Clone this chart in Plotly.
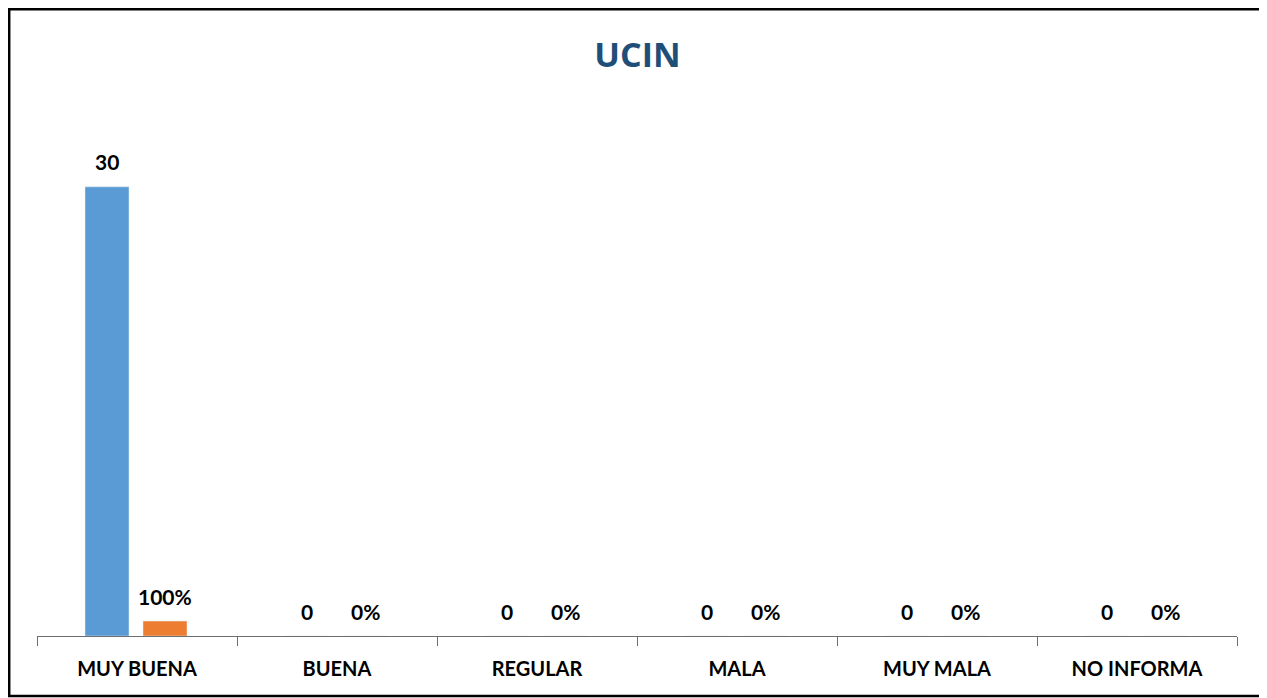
import plotly.graph_objects as go

categories = ["MUY BUENA", "BUENA", "REGULAR", "MALA", "MUY MALA", "NO INFORMA"]
counts = [30, 0, 0, 0, 0, 0]
percents = [1.0, 0, 0, 0, 0, 0]

BLUE = "#5B9BD5"
ORANGE = "#ED7D31"
FONT = "Lato"

fig = go.Figure()
fig.add_trace(go.Bar(x=categories, y=counts, marker_color=BLUE, width=0.22, offset=-0.26,
                     name="Cantidad", hoverinfo="x+y"))
fig.add_trace(go.Bar(x=categories, y=percents, marker_color=ORANGE, width=0.22, offset=0.03,
                     name="Porcentaje", hoverinfo="x+y"))

# data labels placed through the data axes
for c, v in zip(categories, counts):
    fig.add_annotation(x=c, y=v, xref="x", yref="y", text=f"{v:g}", showarrow=False,
                       xshift=-30, yshift=25, yanchor="middle",
                       font=dict(family=FONT, size=21, color="#000000", weight="bold"))
for c, v in zip(categories, percents):
    fig.add_annotation(x=c, y=v, xref="x", yref="y", text=f"{v*100:.0f}%", showarrow=False,
                       xshift=28, yshift=25, yanchor="middle",
                       font=dict(family=FONT, size=21, color="#000000", weight="bold"))

# page body adds an 8px margin; figure coordinates are page coordinates minus 8
W, H = 1259, 690
L, R, T, B = 29, 30, 92, 62
pw, ph = W - L - R, H - T - B

def px_x(p):
    return (p - L) / pw

def px_y(p):
    return (H - B - p) / ph

fig.add_shape(type="rect", xref="paper", yref="paper",
              x0=px_x(1.2), x1=px_x(1256), y0=px_y(688), y1=px_y(1.2),
              line=dict(color="#000000", width=2.5), fillcolor="rgba(0,0,0,0)", layer="above")

fig.update_layout(
    width=W, height=H,
    margin=dict(l=L, r=R, t=T, b=B),
    paper_bgcolor="white", plot_bgcolor="white",
    barmode="overlay",
    showlegend=False,
    title=dict(text="<b>UCIN</b>", x=0.5, xref="container", xanchor="center",
               y=1 - 47 / H, yref="container", yanchor="middle",
               font=dict(family="Open Sans", size=34, color="#1F4E79")),
    xaxis=dict(type="category", showline=True, linecolor="#6E6E6E", linewidth=1.2,
               ticks="outside", tickson="boundaries", ticklen=9, tickcolor="#6E6E6E",
               tickwidth=1.2, showgrid=False, zeroline=False,
               tickfont=dict(family=FONT, size=20, color="#000000", weight="bold"),
               ticklabelstandoff=15, range=[-0.5, 5.5]),
    yaxis=dict(visible=False, range=[0, 35.8], showgrid=False, zeroline=False),
    font=dict(family=FONT),
)

fig.write_html("out.html")
